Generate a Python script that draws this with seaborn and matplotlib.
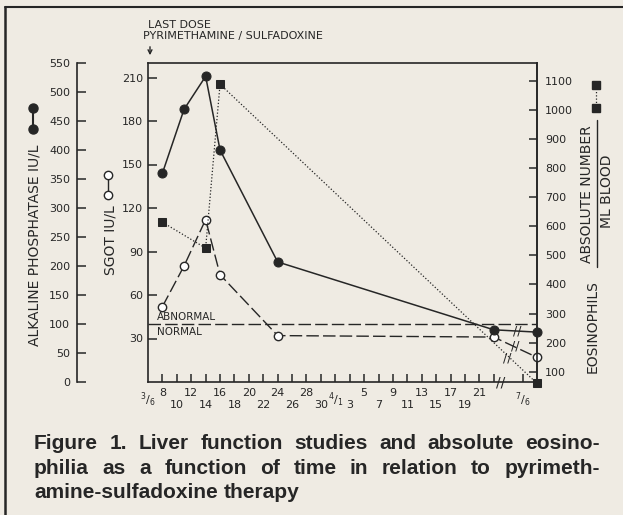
import matplotlib
matplotlib.use('Agg')
import matplotlib.pyplot as plt
import seaborn as sns
from matplotlib.lines import Line2D

###########
# Data    #
###########

# x = days counted from March 6; July 6 sits just after the axis break
alp_days = [2, 5, 8, 10, 18, 48, 54]
alp_vals = [360, 470, 527, 400, 207, 90, 86]

sgot_days = [2, 5, 8, 10, 18, 48, 54]
sgot_vals = [52, 80, 112, 74, 32, 31, 17]

eos_days = [2, 8, 10, 54]
eos_vals = [614, 525, 1088, 60]

sgot_normal_limit = 40

tick_days = list(range(2, 49, 2)) + [52]
date_days = [0] + list(range(2, 47, 2)) + [52]
date_labels = ['$^3/_6$', '8', '10', '12', '14', '16', '18', '20', '22', '24',
               '26', '28', '30', '$^4/_1$', '3', '5', '7', '9', '11', '13',
               '15', '17', '19', '21', '$^7/_6$']

alp_ticks = list(range(0, 551, 50))
sgot_ticks = list(range(30, 211, 30))
eos_ticks = list(range(100, 1101, 100))

caption = ['Figure 1. Liver function studies and absolute eosino-',
           'philia as a function of time in relation to pyrimeth-',
           'amine-sulfadoxine therapy']

###########
# Styling #
###########

ink = '#262626'
bg = '#efebe3'
W, H = 623, 515

sns.set_theme(style='ticks')
plt.rcParams.update({
    'font.family': ['DejaVu Sans'],
    'mathtext.default': 'regular',
    'text.color': ink,
    'axes.edgecolor': ink,
    'xtick.color': ink,
    'ytick.color': ink,
    'axes.linewidth': 1.2,
})


def fxy(px, py):
    # pixel position (from top-left) -> figure fraction
    return px / W, 1 - py / H


fig = plt.figure(figsize=(W / 100, H / 100), dpi=100, facecolor=bg)
ax = fig.add_axes([148 / W, 1 - 382 / H, 389 / W, 319 / H])
ax.set_facecolor(bg)
ax_alp = ax.twinx()
ax_eos = ax.twinx()

#########
# Lines #
#########

sns.lineplot(x=alp_days, y=alp_vals, ax=ax_alp, color=ink, lw=1.1, marker='o',
             markersize=6.5, markerfacecolor=ink, markeredgecolor=ink, clip_on=False, zorder=5)
sns.lineplot(x=sgot_days, y=sgot_vals, ax=ax, color=ink, lw=1.0, ls=(0, (9, 3)), marker='o',
             markersize=6, markerfacecolor='white', markeredgecolor=ink, markeredgewidth=1,
             clip_on=False, zorder=5)
sns.lineplot(x=eos_days, y=eos_vals, ax=ax_eos, color=ink, lw=0.9, ls=(0, (1, 1.6)), marker='s',
             markersize=5.5, markerfacecolor=ink, markeredgecolor=ink, clip_on=False, zorder=5)

ax.axhline(sgot_normal_limit, color=ink, lw=1.0, ls=(0, (9, 3)))
ax.text(1.25, sgot_normal_limit + 1.2, 'ABNORMAL', fontsize=7.5, va='bottom', ha='left')
ax.text(1.25, sgot_normal_limit - 2, 'NORMAL', fontsize=7.5, va='top', ha='left')

# break marks
brk = dict(fontsize=9, ha='center', va='center', color=ink, clip_on=False)
ax_alp.text(51.2, 88, '//', **brk)
ax.text(51.0, 24.5, '//', **brk)
ax_eos.text(49.9, 147, '//', **brk)
ax.text(48.9, 0, '//', fontsize=10, ha='center', va='center', color=ink, clip_on=False)

#########
# Axes  #
#########

ax.set_xlim(0, 54)
ax.set_ylim(0, 220)
ax.set_xticks(tick_days)
ax.set_xticklabels([])
ax.set_yticks(sgot_ticks)
ax.tick_params(axis='x', direction='in', length=5.8, width=1.1)
ax.tick_params(axis='y', direction='in', length=6.5, width=1.1, pad=3.6, labelsize=8)
ax.set_xlabel('')
ax.set_ylabel('')
for i, (d, lab) in enumerate(zip(date_days, date_labels)):
    if lab.startswith('$'):
        yy = -0.055
    elif i % 2 == 1:
        yy = -0.035
    else:
        yy = -0.072
    ax.text(d, yy, lab, transform=ax.get_xaxis_transform(), fontsize=8,
            ha='center', va='center')

ax_alp.set_ylim(0, 550)
ax_alp.set_yticks(alp_ticks)
ax_alp.yaxis.set_ticks_position('left')
ax_alp.spines['left'].set_position(('outward', 51))
ax_alp.spines['left'].set_visible(True)
for s in ['right', 'top', 'bottom']:
    ax_alp.spines[s].set_visible(False)
ax_alp.tick_params(axis='y', direction='in', length=6.5, width=1.1, pad=5, labelsize=8)
ax_alp.set_ylabel('')

ax_eos.set_ylim(65, 1161)
ax_eos.set_yticks(eos_ticks)
for s in ['left', 'top', 'bottom']:
    ax_eos.spines[s].set_visible(False)
ax_eos.tick_params(axis='y', direction='in', length=5.5, width=1.1, pad=5.8, labelsize=8)
ax_eos.set_ylabel('')
ax_eos.set_xlim(0, 54)
ax_alp.set_xlim(0, 54)

##########################
# Labels and legend keys #
##########################

fig.text(*fxy(35, 245), 'ALKALINE PHOSPHATASE IU/L', rotation=90, fontsize=10, ha='center', va='center')
fig.text(*fxy(110, 240), 'SGOT IU/L', rotation=90, fontsize=10, ha='center', va='center')
fig.text(*fxy(593, 327), 'EOSINOPHILS', rotation=90, fontsize=10, ha='center', va='center')
fig.text(*fxy(587, 194), 'ABSOLUTE NUMBER', rotation=90, fontsize=10, ha='center', va='center')
fig.text(*fxy(607, 191), 'ML BLOOD', rotation=90, fontsize=10, ha='center', va='center')
fig.add_artist(Line2D([597 / W, 597 / W], [1 - 120 / H, 1 - 267 / H], color=ink, lw=1))

fig.add_artist(Line2D([33 / W, 33 / W], [1 - 108 / H, 1 - 129 / H], color=ink, lw=1.5, marker='o',
                      markersize=6.5, markerfacecolor=ink, markeredgecolor=ink))
fig.add_artist(Line2D([108 / W, 108 / W], [1 - 175 / H, 1 - 195 / H], color=ink, lw=1, marker='o',
                      markersize=6, markerfacecolor='white', markeredgecolor=ink))
fig.add_artist(Line2D([596 / W, 596 / W], [1 - 85 / H, 1 - 108 / H], color=ink, lw=0.9, ls=(0, (1, 1.6)),
                      marker='s', markersize=5.5, markerfacecolor=ink, markeredgecolor=ink))

fig.text(*fxy(148, 25), 'LAST DOSE', fontsize=8, ha='left', va='center')
fig.text(*fxy(143, 36), 'PYRIMETHAMINE / SULFADOXINE', fontsize=8, ha='left', va='center')
ax.annotate('', xy=fxy(150, 58), xycoords='figure fraction', xytext=fxy(150, 44),
            textcoords='figure fraction',
            arrowprops=dict(arrowstyle='->', color=ink, lw=1, mutation_scale=7))

# outer frame (left and top edges)
fig.add_artist(Line2D([5 / W, 5 / W], [0, 1 - 7 / H], color=ink, lw=1.8))
fig.add_artist(Line2D([5 / W, 1], [1 - 7 / H, 1 - 7 / H], color=ink, lw=1.5))

###########
# Caption #
###########

cap_size = 15
renderer = fig.canvas.get_renderer()


def caption_line(text, y, x0, x1=None):
    words = text.split()
    texts = [fig.text(0, 0, w, fontsize=cap_size, fontweight='bold', family='Liberation Sans',
                      color=ink, va='baseline') for w in words]
    widths = [t.get_window_extent(renderer).width for t in texts]
    if x1 is None:
        gap = cap_size * 100 / 72 * 0.3
    else:
        gap = (x1 - x0 - sum(widths)) / (len(words) - 1)
    x = x0
    for t, w in zip(texts, widths):
        t.set_position(fxy(x, y))
        x += w + gap


caption_line(caption[0], 449, 34, 600)
caption_line(caption[1], 474, 34, 600)
caption_line(caption[2], 498, 34)

fig.savefig('out.png', dpi=100, facecolor=bg)
